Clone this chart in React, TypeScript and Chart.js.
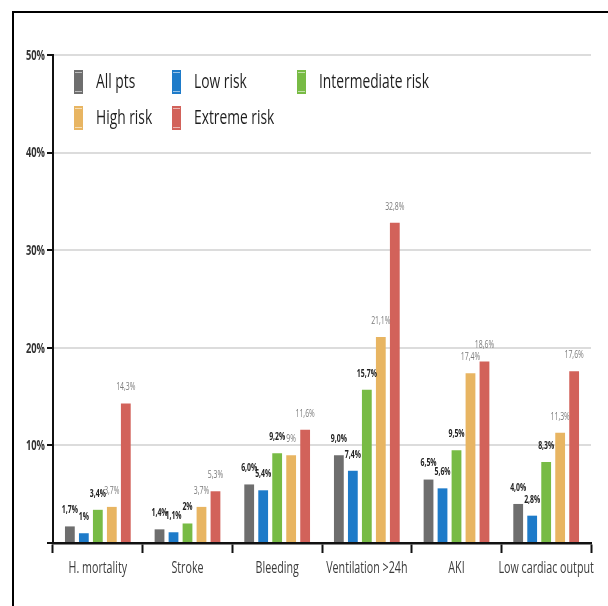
import React, { useEffect, useRef } from "react";
import { Chart, registerables } from "chart.js";

Chart.register(...registerables);

// Outcome categories on the x axis
const categories = [
  "H. mortality",
  "Stroke",
  "Bleeding",
  "Ventilation >24h",
  "AKI",
  "Low cardiac output",
];

// Percentages per risk group, written as they are printed above the bars
const allPts = ["1,7", "1,4", "6,0", "9,0", "6,5", "4,0"];
const lowRisk = ["1", "1,1", "5,4", "7,4", "5,6", "2,8"];
const intermediateRisk = ["3,4", "2", "9,2", "15,7", "9,5", "8,3"];
const highRisk = ["3,7", "3,7", "9", "21,1", "17,4", "11,3"];
const extremeRisk = ["14,3", "5,3", "11,6", "32,8", "18,6", "17,6"];

const seriesNames = ["All pts", "Low risk", "Intermediate risk", "High risk", "Extreme risk"];
const seriesColors = ["#6e6e6e", "#1e7bc9", "#78bb45", "#e8b562", "#d2625a"];
const seriesPrinted = [allPts, lowRisk, intermediateRisk, highRisk, extremeRisk];

const yMax = 50;
const yStep = 10;

const FONT = "'Open Sans', 'Noto Sans', sans-serif";
// All lettering is set in a narrow, horizontally compressed face
const SQUEEZE = 0.69;

const toNumber = (s: string) => parseFloat(s.replace(",", "."));

function narrowText(
  ctx: CanvasRenderingContext2D,
  text: string,
  x: number,
  y: number,
  align: CanvasTextAlign
) {
  ctx.save();
  ctx.translate(x, y);
  ctx.scale(SQUEEZE, 1);
  ctx.textAlign = align;
  ctx.fillText(text, 0, 0);
  ctx.restore();
}

// Axis tick labels, drawn at the positions the scales report
const axisLabels = {
  id: "axisLabels",
  afterDraw(chart: any) {
    const ctx = chart.ctx;
    const xs = chart.scales.x;
    const ys = chart.scales.y;
    ctx.save();
    ctx.textBaseline = "middle";

    ctx.font = `15.5px ${FONT}`;
    ctx.fillStyle = "#3c3c3c";
    xs.ticks.forEach((_t: any, i: number) => {
      const x = xs.getPixelForTick(i);
      narrowText(ctx, String(chart.data.labels[i]), x, xs.top + 26, "center");
    });

    ctx.font = `bold 13.5px ${FONT}`;
    ctx.fillStyle = "#333333";
    ys.ticks.forEach((t: any) => {
      if (t.value === 0) return;
      const y = ys.getPixelForValue(t.value);
      narrowText(ctx, `${t.value}%`, ys.right - 8, y + 1, "right");
    });
    ctx.restore();
  },
};

// Value labels above each bar
const valueLabels = {
  id: "valueLabels",
  afterDatasetsDraw(chart: any) {
    const ctx = chart.ctx;
    ctx.save();
    ctx.textBaseline = "middle";
    chart.data.datasets.forEach((ds: any, i: number) => {
      const meta = chart.getDatasetMeta(i);
      const strong = i < 3;
      ctx.font = `${strong ? "bold " : ""}10px ${FONT}`;
      ctx.fillStyle = strong ? "#222222" : "#7a7a7a";
      meta.data.forEach((bar: any, j: number) => {
        narrowText(ctx, ds.printed[j] + "%", bar.x, bar.y - 16, "center");
      });
    });
    ctx.restore();
  },
};

// Two-row legend inside the plot area, aligned in columns
const gridLegend = {
  id: "gridLegend",
  afterDraw(chart: any) {
    const ctx = chart.ctx;
    const { left, top } = chart.chartArea;
    const colX = [21, 119, 244];
    const rowY = [27, 63];
    ctx.save();
    ctx.font = `20px ${FONT}`;
    ctx.textBaseline = "middle";
    chart.data.datasets.forEach((ds: any, i: number) => {
      const x = left + colX[i % 3];
      const y = top + rowY[Math.floor(i / 3)];
      ctx.fillStyle = ds.backgroundColor;
      ctx.fillRect(x, y - 12, 9, 24);
      ctx.fillStyle = "rgba(255,255,255,0.55)";
      ctx.fillRect(x + 1, y - 10, 7, 1);
      ctx.fillRect(x + 1, y + 9, 7, 1);
      ctx.fillStyle = "#1e1e1e";
      narrowText(ctx, ds.label, x + 22, y, "left");
    });
    ctx.restore();
  },
};

export default function App() {
  const canvasRef = useRef<HTMLCanvasElement>(null);

  useEffect(() => {
    const canvas = canvasRef.current;
    if (!canvas) return;
    const chart = new Chart(canvas, {
      type: "bar",
      data: {
        labels: categories,
        datasets: seriesNames.map((name, i) => ({
          label: name,
          data: seriesPrinted[i].map(toNumber),
          printed: seriesPrinted[i],
          backgroundColor: seriesColors[i],
          borderWidth: 0,
          categoryPercentage: 0.78,
          barPercentage: 0.7,
        })) as any,
      },
      options: {
        animation: false,
        responsive: false,
        maintainAspectRatio: false,
        layout: { padding: { left: 0, right: 17, top: 55, bottom: 22 } },
        plugins: {
          legend: { display: false },
          tooltip: { enabled: false },
        },
        scales: {
          x: {
            grid: {
              offset: true,
              drawOnChartArea: false,
              drawTicks: true,
              tickLength: 10,
              tickWidth: 2,
              tickColor: "#111111",
            },
            border: { color: "#111111", width: 2.5 },
            ticks: { display: false, autoSkip: false },
            afterFit: (s: any) => {
              s.height = 41;
            },
          },
          y: {
            min: 0,
            max: yMax,
            ticks: { display: false, stepSize: yStep },
            grid: {
              color: "#dcdcdc",
              lineWidth: 2,
              tickLength: 6,
              tickWidth: 2,
              tickColor: "#111111",
            },
            border: { color: "#111111", width: 2 },
            afterFit: (s: any) => {
              s.width = 53;
            },
          },
        },
      },
      plugins: [valueLabels, gridLegend, axisLabels],
    });
    return () => chart.destroy();
  }, []);

  return (
    <div>
      <div
        style={{
          position: "fixed",
          left: 12,
          top: 11,
          width: 700,
          height: 700,
          borderTop: "2.5px solid #000",
          borderLeft: "2.5px solid #000",
        }}
      />
      <canvas
        ref={canvasRef}
        width={608}
        height={606}
        style={{ position: "fixed", left: 0, top: 0, width: 608, height: 606 }}
      />
    </div>
  );
}
